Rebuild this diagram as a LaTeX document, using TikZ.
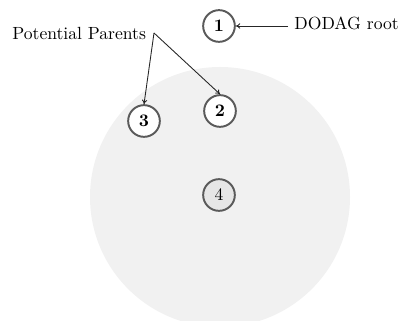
\documentclass[tikz,border=0pt]{standalone}
\usetikzlibrary{arrows.meta}
\definecolor{bigfill}{HTML}{F1F1F1}
\definecolor{nodefill}{HTML}{E6E6E6}
\definecolor{ring}{HTML}{5A5A5A}
\begin{document}
\begin{tikzpicture}[x=0.568pt,y=-0.568pt,
  nd/.style={circle,draw=ring,line width=1.1pt,fill=white,minimum size=18pt,inner sep=0pt,font=\bfseries},
  lbl/.style={inner sep=0pt,font=\normalsize},
  conn/.style={-{To[length=2.5pt,width=3pt]},line width=0.5pt,draw=black!85}]
\useasboundingbox (0,0) rectangle (402,321);
\begin{scope}
\clip (0,0) rectangle (402,321);
\fill[bigfill] (220,197) circle[radius=130*0.568pt];
\end{scope}
\node[nd] (n1) at (219,26) {1};
\node[nd] (n2) at (220,111) {2};
\node[nd] (n3) at (144,121) {3};
\node[nd,fill=nodefill,font=\normalfont] (n4) at (219,195) {4};
\node[lbl,anchor=base west] (pp) at (12,40) {Potential Parents};
\node[lbl,anchor=base west] (root) at (294,30) {DODAG root};
\coordinate (ppa) at (154,33);
\coordinate (rta) at (288,26);
\draw[conn] (ppa) -- (n3.north);
\draw[conn] (ppa) -- (n2.north);
\draw[conn] (rta) -- (n1);
\end{tikzpicture}
\end{document}
